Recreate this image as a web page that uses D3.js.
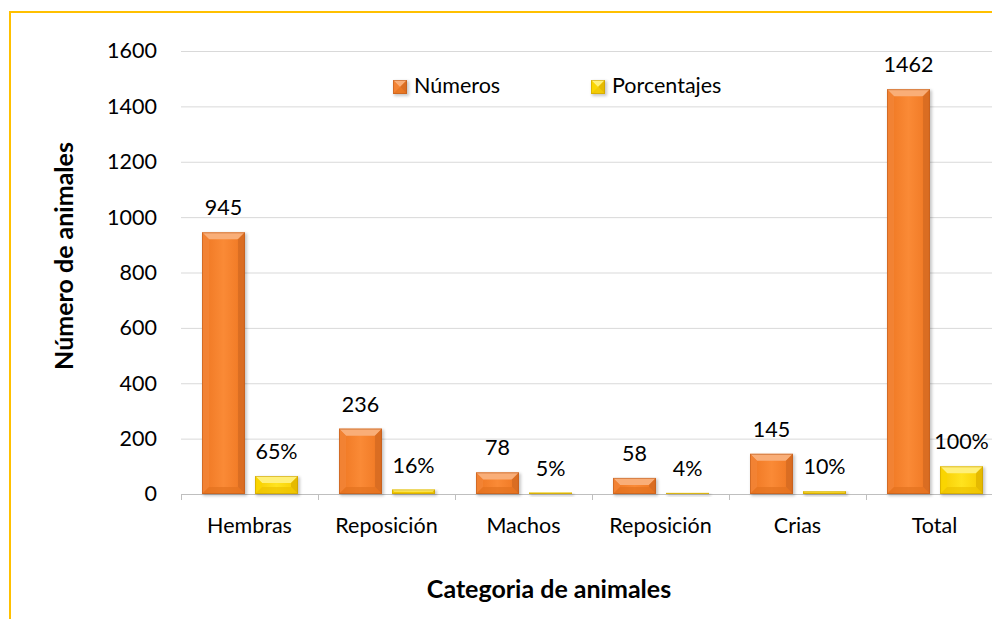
<!DOCTYPE html>
<html><head><meta charset="utf-8">
<script src="https://cdn.jsdelivr.net/npm/d3@7"></script>
<style>body{margin:0;background:#fff}svg{display:block;font-family:Lato,"Liberation Sans",sans-serif}</style>
</head><body>
<svg id="c" width="992" height="619"></svg>
<script>
const categories = ["Hembras","Reposición","Machos","Reposición","Crias","Total"];
const numeros = [945,236,78,58,145,1462];
const porcentajes = [65,16,5,4,10,100];
const porcentajeLabels = ["65%","16%","5%","4%","10%","100%"];
const seriesNames = ["Números","Porcentajes"];
const yTicks = [0,200,400,600,800,1000,1200,1400,1600];

(function(){
const svg = d3.select("#c");
const pLeft = 181, pRight = 1003, pTop = 51, pBottom = 494;
const FS = 21.5;

const y = d3.scaleLinear().domain([0,1600]).range([pBottom, pTop]);
const x = d3.scaleBand().domain(d3.range(categories.length)).range([pLeft, pRight]).paddingInner(0).paddingOuter(0);
const inner = d3.scaleBand().domain([0,1]).range([21, 117]).paddingInner(0.19).paddingOuter(0);

// border
svg.append("path").attr("d","M10,619 L10,12 L992,12").attr("fill","none").attr("stroke","#FFC000").attr("stroke-width",2);

// defs
const defs = svg.append("defs");
function grad(id, stops){
  const g = defs.append("linearGradient").attr("id",id).attr("x1","0").attr("x2","1").attr("y1","0").attr("y2","0");
  stops.forEach(s=>g.append("stop").attr("offset",s[0]).attr("stop-color",s[1]));
}
grad("gO",[[0,"#EE7621"],[0.5,"#FA8A36"],[1,"#EE7621"]]);
grad("gY",[[0,"#F7CC00"],[0.5,"#FFE31E"],[1,"#F7CC00"]]);
const f = defs.append("filter").attr("id","sh").attr("x","-20%").attr("y","-20%").attr("width","140%").attr("height","140%");
f.append("feGaussianBlur").attr("stdDeviation",1.5);

const schemes = {
  O:{face:"url(#gO)", top:"#F9AE78", left:"#F38437", right:"#D46A22", bottom:"#E2721F", stroke:"#B95A1C"},
  Y:{face:"url(#gY)", top:"#FFF07A", left:"#FAD600", right:"#E0B400", bottom:"#EDC200", stroke:"#C49A00"}
};

// gridlines
svg.append("g").selectAll("line").data(yTicks.filter(d=>d>0)).join("line")
  .attr("x1",pLeft).attr("x2",992).attr("y1",d=>y(d)+0.5).attr("y2",d=>y(d)+0.5)
  .attr("stroke","#D9D9D9").attr("stroke-width",1);

// y tick labels
const yAxis = d3.axisLeft(y).tickValues(yTicks).tickSize(0).tickPadding(0).tickFormat(d3.format("d"));
const ya = svg.append("g").attr("transform",`translate(157,0)`).call(yAxis);
ya.select(".domain").remove();
ya.selectAll("text").attr("font-size",FS).attr("fill","#000").attr("font-family","Lato");

// x axis
svg.append("line").attr("x1",pLeft).attr("x2",992).attr("y1",pBottom+0.5).attr("y2",pBottom+0.5).attr("stroke","#BFBFBF").attr("stroke-width",1);
svg.append("g").selectAll("line").data(d3.range(categories.length+1)).join("line")
  .attr("x1",d=>pLeft + d*x.bandwidth()+0.5).attr("x2",d=>pLeft + d*x.bandwidth()+0.5)
  .attr("y1",pBottom).attr("y2",pBottom+6).attr("stroke","#BFBFBF");
svg.append("g").selectAll("text").data(categories).join("text")
  .attr("x",(d,i)=>x(i)+x.bandwidth()/2).attr("y",533).attr("text-anchor","middle")
  .attr("font-size",FS).text(d=>d);

function bevelBar(g, bx, by, w, h, s){
  const b = Math.min(7, h/2, w/2);
  const gg = g.append("g");
  gg.append("rect").attr("x",bx+1).attr("y",by+1).attr("width",w+1).attr("height",h+1).attr("fill","#000").attr("opacity",0.22).attr("filter","url(#sh)");
  gg.append("rect").attr("x",bx).attr("y",by).attr("width",w).attr("height",h).attr("fill",s.face);
  const P = pts=>pts.map(p=>p.join(",")).join(" ");
  gg.append("polygon").attr("points",P([[bx,by],[bx+w,by],[bx+w-b,by+b],[bx+b,by+b]])).attr("fill",s.top);
  gg.append("polygon").attr("points",P([[bx,by],[bx+b,by+b],[bx+b,by+h-b],[bx,by+h]])).attr("fill",s.left).attr("opacity",0.8);
  gg.append("polygon").attr("points",P([[bx+w,by],[bx+w-b,by+b],[bx+w-b,by+h-b],[bx+w,by+h]])).attr("fill",s.right).attr("opacity",0.8);
  gg.append("polygon").attr("points",P([[bx,by+h],[bx+b,by+h-b],[bx+w-b,by+h-b],[bx+w,by+h]])).attr("fill",s.bottom).attr("opacity",0.7);
  gg.append("rect").attr("x",bx+0.5).attr("y",by+0.5).attr("width",w-1).attr("height",Math.max(0,h-1)).attr("fill","none").attr("stroke",s.stroke).attr("stroke-width",1).attr("opacity",0.55);
}

const barsG = svg.append("g");
const series = [{vals:numeros, labels:numeros.map(String), s:schemes.O},{vals:porcentajes, labels:porcentajeLabels, s:schemes.Y}];
series.forEach((ser,si)=>{
  ser.vals.forEach((v,i)=>{
    const bx = x(i)+inner(si), w = inner.bandwidth();
    const by = y(v), h = pBottom - y(v);
    bevelBar(barsG, bx, by, w, h, ser.s);
    svg.append("text").attr("x",bx+w/2).attr("y",by-17).attr("text-anchor","middle").attr("font-size",FS).text(ser.labels[i]);
  });
});

// legend
const leg = [{x:393,c:schemes.O,t:seriesNames[0]},{x:591,c:schemes.Y,t:seriesNames[1]}];
leg.forEach(l=>{
  const g = svg.append("g");
  bevelBar(g, l.x, 80, 14, 14, l.c);
  svg.append("text").attr("x",l.x+21).attr("y",93).attr("font-size",FS).text(l.t);
});

// axis titles
svg.append("text").attr("transform","translate(73,256) rotate(-90)").attr("text-anchor","middle")
  .attr("font-size",25).attr("font-weight","bold").text("Número de animales");
svg.append("text").attr("x",549).attr("y",598).attr("text-anchor","middle")
  .attr("font-size",25).attr("font-weight","bold").text("Categoria de animales");
})();
</script>
</body></html>
